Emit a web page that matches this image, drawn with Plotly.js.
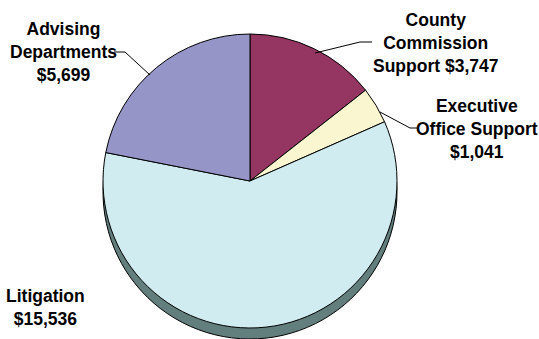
<!DOCTYPE html>
<html><head><meta charset="utf-8">
<script src="https://cdn.plot.ly/plotly-3.0.1.min.js"></script>
<style>html,body{margin:0;padding:0;background:#fff;}</style>
</head><body>
<div id="chart" style="width:539px;height:339px;"></div>
<script>
const categories = ["County Commission Support", "Executive Office Support", "Litigation", "Advising Departments"];
const values = [3747, 1041, 15536, 5699];
const labelTexts = ["County<br>Commission<br>Support $3,747", "Executive<br>Office Support<br>$1,041", "Litigation<br>$15,536", "Advising<br>Departments<br>$5,699"];
const faceColors = ["#943562", "#FAF7D0", "#D0ECF0", "#9595C8"];
const sideColors = ["#5A1F3B", "#9A977A", "#627F7E", "#5A5A80"];

const W = 539, H = 339;
const cx = 250, cy = 181, r = 147, depth = 11;
const px = x => x / W, py = y => 1 - y / H;

const base = {
  type: 'pie', labels: categories, values: values, sort: false,
  direction: 'clockwise', rotation: 0, textinfo: 'none', hoverinfo: 'label+value',
  showlegend: false
};
const shadow = Object.assign({}, base, {
  marker: {colors: sideColors, line: {color: '#000', width: 1}},
  domain: {x: [px(cx - r), px(cx + r)], y: [py(cy + depth + r), py(cy + depth - r)]}
});
const face = Object.assign({}, base, {
  marker: {colors: faceColors, line: {color: '#000', width: 1}},
  domain: {x: [px(cx - r), px(cx + r)], y: [py(cy + r), py(cy - r)]}
});

const font = {family: '"Liberation Sans", Arial, sans-serif', size: 17.5, color: '#000', weight: 'bold'};
const ann = (i, x, y) => ({text: '<b>' + labelTexts[i] + '</b>', x: px(x), y: py(y), xref: 'paper', yref: 'paper',
  showarrow: false, align: 'center', xanchor: 'center', yanchor: 'middle', font: font});

const lineStyle = {color: '#000', width: 1};
const path = pts => 'M ' + pts.map(p => px(p[0]) + ' ' + py(p[1])).join(' L ');

const layout = {
  width: W, height: H, margin: {l: 0, r: 0, t: 0, b: 0},
  paper_bgcolor: '#fff', plot_bgcolor: '#fff',
  annotations: [ann(0, 435, 43), ann(1, 477, 129), ann(2, 45, 307), ann(3, 63, 52)],
  shapes: [
    {type: 'path', xref: 'paper', yref: 'paper', path: path([[372, 42], [360, 42], [315, 53]]), line: lineStyle},
    {type: 'path', xref: 'paper', yref: 'paper', path: path([[380, 112], [410, 128], [417, 128]]), line: lineStyle},
    {type: 'path', xref: 'paper', yref: 'paper', path: path([[114, 52], [125, 52], [150, 75]]), line: lineStyle}
  ]
};
Plotly.newPlot('chart', [shadow, face], layout, {displayModeBar: false, staticPlot: true});
</script>
</body></html>
